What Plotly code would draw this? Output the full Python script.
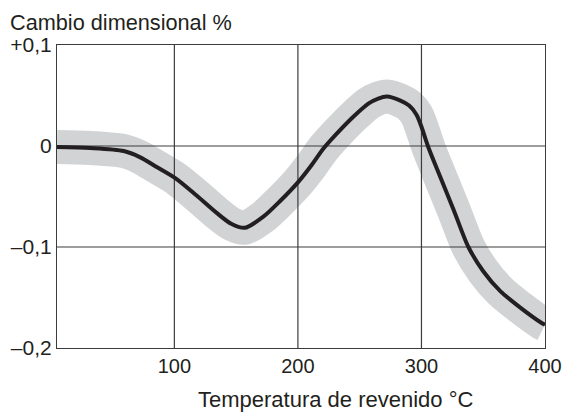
import plotly.graph_objects as go

# Data
temp_c = [5, 32, 59, 72, 86, 101, 118, 134, 146, 157, 172, 186, 200, 211, 221, 232, 244, 257, 265, 272,
          283, 290, 296, 300, 305.5, 315, 326, 338, 350, 364, 380, 397, 400]
dim_change = [-0.001, -0.002, -0.005, -0.011, -0.021, -0.032, -0.049, -0.066, -0.077, -0.081, -0.070,
              -0.054, -0.036, -0.019, -0.002, 0.013, 0.028, 0.042, 0.047, 0.049,
              0.045, 0.040, 0.031, 0.019, -0.001, -0.030, -0.063, -0.100, -0.124, -0.144, -0.160,
              -0.175, -0.177]

x_ticks = [100, 200, 300, 400]
x_tick_labels = ["100", "200", "300", "400"]
y_ticks = [0.1, 0.0, -0.1, -0.2]
y_tick_labels = ["+0,1", "0", "\u20130,1", "\u20130,2"]
x_grid = [100, 200, 300]
y_grid = [0.0, -0.1]

X_RANGE = [5, 400]
Y_RANGE = [-0.2, 0.1]

FONT = "Liberation Sans, Arial, sans-serif"
TEXT = "#231f20"
GRID = "#3c3c3c"

fig = go.Figure()

# grey tolerance band
fig.add_trace(go.Scatter(x=temp_c, y=dim_change, mode="lines",
                         line=dict(color="#d1d3d4", width=34, shape="spline", smoothing=0.8),
                         hoverinfo="skip", showlegend=False))

# grid lines drawn above the band
for gx in x_grid:
    fig.add_trace(go.Scatter(x=[gx, gx], y=Y_RANGE, mode="lines",
                             line=dict(color=GRID, width=1.2), hoverinfo="skip", showlegend=False))
for gy in y_grid:
    fig.add_trace(go.Scatter(x=X_RANGE, y=[gy, gy], mode="lines",
                             line=dict(color=GRID, width=1.2), hoverinfo="skip", showlegend=False))

# main curve
fig.add_trace(go.Scatter(x=temp_c, y=dim_change, mode="lines",
                         line=dict(color=TEXT, width=4, shape="spline", smoothing=0.8),
                         showlegend=False))

fig.update_xaxes(range=X_RANGE, tickvals=x_ticks, ticktext=x_tick_labels,
                 showgrid=False, zeroline=False, showline=True, mirror=True,
                 linecolor=GRID, linewidth=1.2, ticks="", automargin=False,
                 ticklabeloverflow="allow",
                 tickfont=dict(family=FONT, size=20, color=TEXT))
fig.update_yaxes(range=Y_RANGE, tickvals=y_ticks, ticktext=y_tick_labels,
                 showgrid=False, zeroline=False, showline=True, mirror=True,
                 linecolor=GRID, linewidth=1.2, ticks="", automargin=False,
                 tickfont=dict(family=FONT, size=21, color=TEXT))

W, H = 563, 412
# plot area in page pixels
PL, PR, PT, PB = 57, 545, 45, 348
L, T, R, B = PL, PT, W - PR, H - PB
pw, ph = PR - PL, PB - PT

fig.add_annotation(text="Cambio dimensional %", xref="paper", yref="paper",
                   x=(8 - PL) / pw, y=1 + (PT - 22) / ph, xanchor="left", yanchor="middle",
                   showarrow=False, font=dict(family=FONT, size=21.7, color=TEXT))
fig.add_annotation(text="Temperatura de revenido \u00b0C", xref="paper", yref="paper",
                   x=(335 - PL) / pw, y=-(399 - PB) / ph, xanchor="center", yanchor="middle",
                   showarrow=False, font=dict(family=FONT, size=22, color=TEXT))

fig.update_layout(width=W, height=H, margin=dict(l=L, r=R, t=T, b=B),
                  paper_bgcolor="white", plot_bgcolor="white")

fig.write_html("out.html", config={"displayModeBar": False},
               post_script="document.body.style.margin='0';document.body.style.overflow='hidden';")
